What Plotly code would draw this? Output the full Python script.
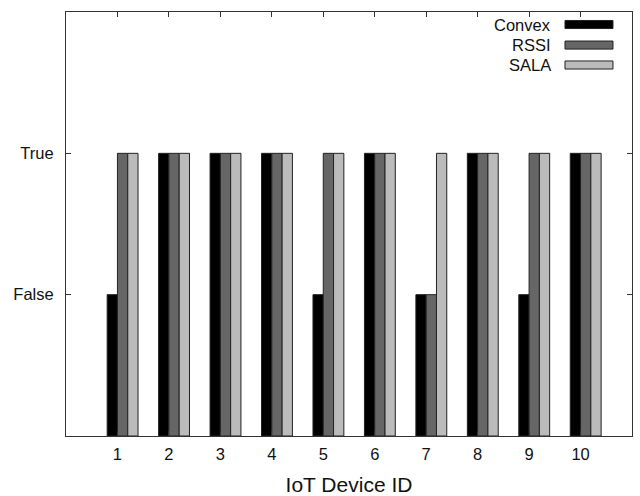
import plotly.graph_objects as go

# Localization outcome per IoT device (1 = False, 2 = True)
device_ids = [1, 2, 3, 4, 5, 6, 7, 8, 9, 10]
convex = [1, 2, 2, 2, 1, 2, 1, 2, 1, 2]
rssi = [2, 2, 2, 2, 2, 2, 1, 2, 2, 2]
sala = [2, 2, 2, 2, 2, 2, 2, 2, 2, 2]

series_names = ["Convex", "RSSI", "SALA"]
series_values = [convex, rssi, sala]
series_colors = ["#000000", "#666666", "#bbbbbb"]
bar_offsets = [-0.2, 0.0, 0.2]
bar_width = 0.2

y_tick_vals = [1, 2]
y_tick_text = ["False", "True"]

FONT = "Liberation Sans, Arial, sans-serif"

fig = go.Figure()
for name, vals, color, off in zip(series_names, series_values, series_colors, bar_offsets):
    fig.add_trace(go.Bar(
        x=device_ids, y=vals, name=name,
        width=bar_width, offset=off,
        marker=dict(color=color, line=dict(color="#222222", width=1)),
        showlegend=False,
    ))

# Legend drawn by hand: label on the left, swatch on the right
row_y = [0.9705, 0.922, 0.875]
sw_h = 0.0095
for name, color, yy in zip(series_names, series_colors, row_y):
    fig.add_shape(type="rect", xref="paper", yref="paper",
                  x0=0.8816, x1=0.9664, y0=yy - sw_h, y1=yy + sw_h,
                  fillcolor=color, line=dict(color="#222222", width=1))
    fig.add_annotation(xref="paper", yref="paper", x=0.86, y=yy,
                       text=name, showarrow=False, xanchor="right", yanchor="middle",
                       font=dict(family=FONT, size=16.5, color="#111111"))

fig.update_layout(
    width=640, height=496,
    margin=dict(l=66, r=8, t=12, b=60),
    paper_bgcolor="white", plot_bgcolor="white",
    barmode="overlay",
    font=dict(family=FONT, size=16, color="#111111"),
)
fig.update_xaxes(
    range=[0, 11], tickvals=device_ids, ticktext=[str(d) for d in device_ids],
    ticks="inside", ticklen=5, tickcolor="#333333",
    showline=True, linecolor="#333333", linewidth=1, mirror="allticks",
    showgrid=False, zeroline=False, ticklabelstandoff=3, automargin=False,
    tickfont=dict(family=FONT, size=16.5),
    title=dict(text="IoT Device ID", font=dict(family=FONT, size=21), standoff=15),
)
fig.update_yaxes(
    range=[0, 3], tickvals=y_tick_vals, ticktext=y_tick_text,
    ticks="inside", ticklen=5, tickcolor="#333333",
    showline=True, linecolor="#333333", linewidth=1, mirror="allticks",
    showgrid=False, zeroline=False, ticklabelstandoff=8, automargin=False,
    tickfont=dict(family=FONT, size=16.5),
)

fig.write_html("out.html")
